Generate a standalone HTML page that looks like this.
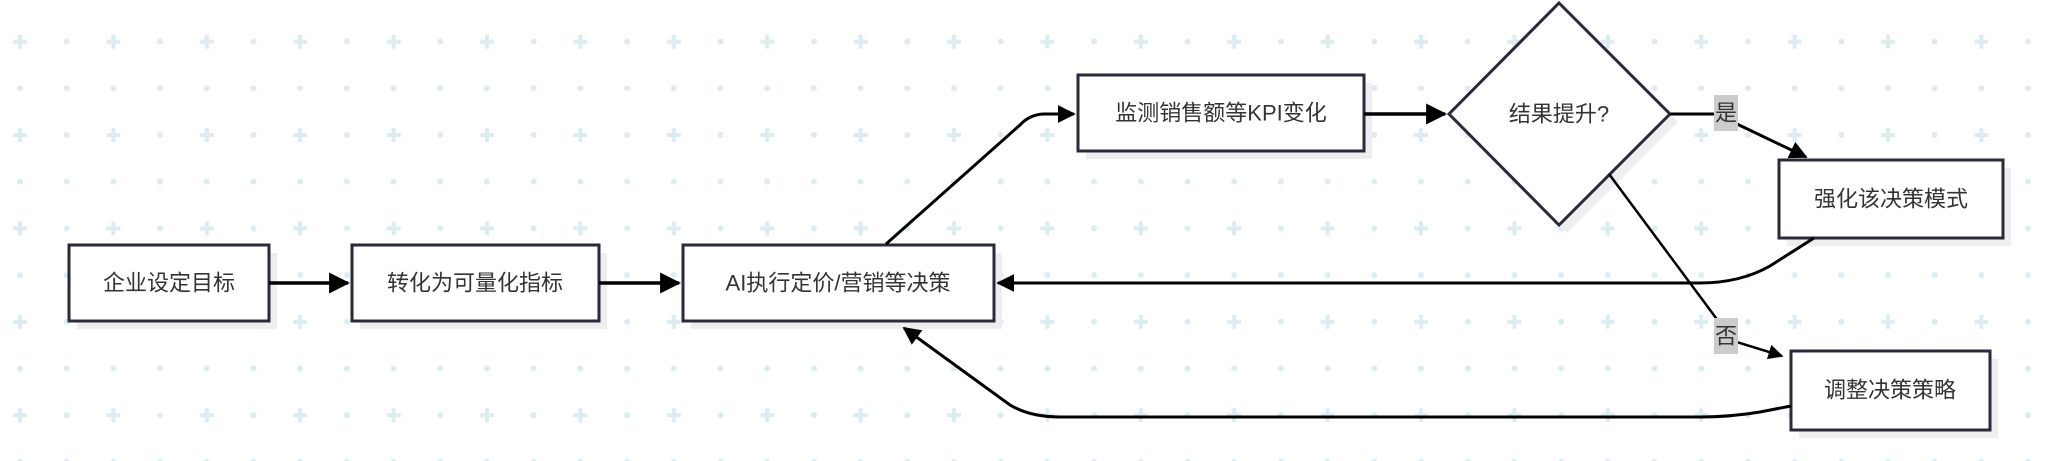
<!DOCTYPE html>
<html><head><meta charset="utf-8"><style>
html,body{margin:0;padding:0;background:#fff;}
svg{display:block;}
text{font-family:"Liberation Sans","Noto Sans CJK SC",sans-serif;font-size:22px;fill:#333;text-anchor:middle;dominant-baseline:central;}
</style></head><body>
<svg width="2054" height="461" viewBox="0 0 2054 461" xmlns="http://www.w3.org/2000/svg">
<defs>
<pattern id="g" x="20" y="41.6" width="93.4" height="93.4" patternUnits="userSpaceOnUse">
<path d="M0 -7V7M-7 0H7" stroke="#dcecf0" stroke-width="4"/>
<path d="M93.4 -7V7M86.4 0H100.4" stroke="#dcecf0" stroke-width="4"/>
<path d="M0 86.4V100.4M-7 93.4H7" stroke="#dcecf0" stroke-width="4"/>
<path d="M93.4 86.4V100.4M86.4 93.4H100.4" stroke="#dcecf0" stroke-width="4"/>
<circle cx="46.7" cy="0" r="3" fill="#dcecf0"/>
<circle cx="46.7" cy="93.4" r="3" fill="#dcecf0"/>
<circle cx="0" cy="46.7" r="3" fill="#dcecf0"/>
<circle cx="46.7" cy="46.7" r="3" fill="#dcecf0"/>
<circle cx="93.4" cy="46.7" r="3" fill="#dcecf0"/>
</pattern>
<marker id="a" viewBox="0 0 10 10" refX="9" refY="5" markerWidth="6" markerHeight="6" orient="auto-start-reverse" markerUnits="strokeWidth">
<path d="M0 0L10 5L0 10z" fill="#000"/></marker>
</defs>
<rect width="2054" height="461" fill="url(#g)"/>
<g fill="#eee">
<rect x="77" y="253" width="200" height="76"/>
<rect x="360" y="253" width="247" height="76"/>
<rect x="691" y="253" width="311" height="76"/>
<rect x="1086" y="83" width="286" height="76"/>
<polygon points="1567,11 1678,122 1567,233 1457,122"/>
<rect x="1787" y="168" width="224" height="78"/>
<rect x="1799" y="359" width="199" height="79"/>
</g>
<g fill="#fff" stroke="#2a2a3c" stroke-width="3">
<rect x="69" y="245" width="200" height="76"/>
<rect x="352" y="245" width="247" height="76"/>
<rect x="683" y="245" width="311" height="76"/>
<rect x="1078" y="75" width="286" height="76"/>
<polygon points="1559,3 1670,114 1559,225 1449,114"/>
<rect x="1779" y="160" width="224" height="78"/>
<rect x="1791" y="351" width="199" height="79"/>
</g>
<g fill="none" stroke="#000" stroke-width="3" marker-end="url(#a)">
<path d="M269 283H348" stroke-width="3.5"/>
<path d="M599 283H679" stroke-width="3.5"/>
<path d="M886 244L1020 125Q1030 114 1045 114H1074"/>
<path d="M1364 114H1445" stroke-width="3.5"/>
<path d="M1670 114H1716L1806 157"/>
<path d="M1814 238L1770 266Q1740 283 1700 283H998"/>
<path d="M1609 174L1716 318L1730 340L1782 356" stroke-width="2.5"/>
<path d="M1791 406L1760 412Q1730 417 1700 417H1060Q1030 417 1010 405L904 328"/>
</g>
<rect x="1714" y="95" width="24" height="36" fill="#ccc"/>
<text x="1726" y="113">是</text>
<rect x="1714" y="318" width="24" height="36" fill="#ccc"/>
<text x="1726" y="336">否</text>
<text x="169" y="283">企业设定目标</text>
<text x="475" y="283">转化为可量化指标</text>
<text x="838" y="283">AI执行定价/营销等决策</text>
<text x="1221" y="113">监测销售额等KPI变化</text>
<text x="1559" y="114">结果提升?</text>
<text x="1891" y="199">强化该决策模式</text>
<text x="1890" y="390">调整决策策略</text>
</svg>
</body></html>
